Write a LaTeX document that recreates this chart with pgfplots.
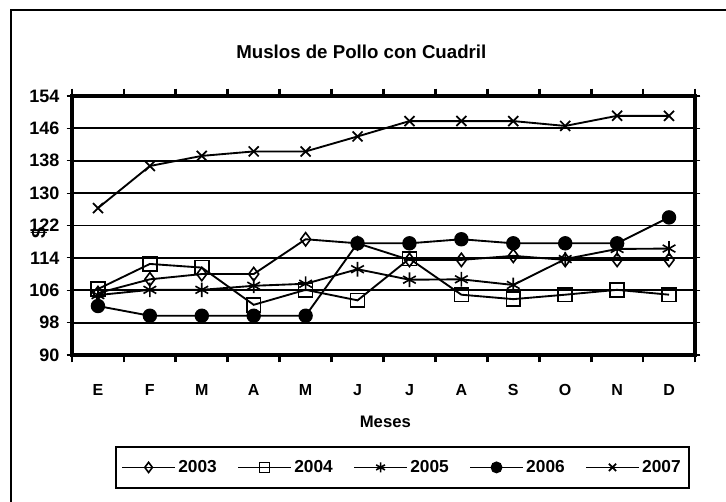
\documentclass[border=0pt]{standalone}
\usepackage{fontspec}
\setmainfont{Liberation Sans}
\usepackage{pgfplots}
\pgfplotsset{compat=1.18}

\begin{document}
\begin{tikzpicture}
% picture = 726x502 px, 1 px = 0.75pt
\path[use as bounding box] (0,0) rectangle (544.5pt,376.5pt);
% chart area border (right and bottom are cut off in the reference)
\draw[line width=1.5pt] (8.25pt,-2pt) -- (8.25pt,369pt) -- (547pt,369pt);

\node[font=\bfseries\fontsize{14}{16}\selectfont] at (271pt,337.5pt) {Muslos de Pollo con Cuadril};
\node[font=\bfseries\fontsize{12.5}{14}\selectfont] at (289pt,60pt) {Meses};

\begin{axis}[
    at={(54pt,110.25pt)},
    anchor=south west,
    scale only axis,
    width=467.25pt,
    height=194.25pt,
    xmin=-0.5, xmax=11.5,
    ymin=90, ymax=154,
    xtick={0,...,11},
    xticklabels={E,F,M,A,M,J,J,A,S,O,N,D},
    minor xtick={-0.5,0.5,...,11.5},
    ytick={90,98,...,154},
    major x tick style={draw=none},
    tick align=outside,
    major tick length=4pt,
    minor tick length=5.5pt,
    major tick style={black, line width=0.8pt},
    minor tick style={black, line width=2pt},
    axis line style={line width=2.4pt},
    ymajorgrids,
    major grid style={black, line width=1.4pt},
    yticklabel style={font=\bfseries\fontsize{13.5}{15}\selectfont, xshift=-2pt},
    /pgf/number format/assume math mode=true,
    xticklabel style={font=\bfseries\fontsize{12}{14}\selectfont, yshift=-14pt,
        text height=9pt, text depth=0pt},
    ylabel={\$},
    ylabel style={at={(axis description cs:-0.053,0.47)}, anchor=center,
        font=\bfseries\fontsize{15}{17}\selectfont},
    legend columns=5,
    legend style={at={(axis description cs:0.5305,-0.434)}, anchor=center,
        draw=black, line width=1.3pt, font=\bfseries\fontsize{13}{15}\selectfont,
        inner xsep=4pt, inner ysep=8pt,
        /tikz/every even column/.append style={column sep=13.5pt}},
    legend image code/.code={\draw[mark repeat=2,mark phase=2,line width=1.3pt,mark size=3.8pt]
        plot coordinates {(0cm,0cm) (0.69cm,0cm) (1.38cm,0cm)};},
    every axis plot/.append style={black, line width=1.4pt},
    clip=false,
]
\addplot[mark=diamond, mark size=5pt, mark options={solid, fill=white, line width=1.2pt}] coordinates {
    (0,105.3) (1,108.7) (2,110.0) (3,110.0) (4,118.6) (5,117.6)
    (6,113.5) (7,113.5) (8,114.5) (9,113.5) (10,113.5) (11,113.5)
};
\addplot[mark=square, mark size=5.2pt, mark options={solid, fill=white, line width=1.2pt}] coordinates {
    (0,106.3) (1,112.5) (2,111.6) (3,102.4) (4,106.1) (5,103.5)
    (6,113.8) (7,104.9) (8,103.8) (9,104.9) (10,106.1) (11,104.9)
};
\addplot[mark=asterisk, mark size=5.5pt, mark options={solid, line width=1.2pt}] coordinates {
    (0,104.8) (1,106.1) (2,106.1) (3,107.1) (4,107.6) (5,111.2)
    (6,108.6) (7,108.7) (8,107.3) (9,113.7) (10,116.2) (11,116.3)
};
\addplot[mark=*, mark size=4.7pt, mark options={solid}] coordinates {
    (0,102.1) (1,99.7) (2,99.7) (3,99.7) (4,99.7) (5,117.6)
    (6,117.6) (7,118.6) (8,117.6) (9,117.6) (10,117.6) (11,124.0)
};
\addplot[mark=x, mark size=5.3pt, mark options={solid, line width=1.3pt}] coordinates {
    (0,126.3) (1,136.7) (2,139.2) (3,140.3) (4,140.3) (5,144.0)
    (6,147.8) (7,147.8) (8,147.8) (9,146.6) (10,149.1) (11,149.1)
};
\legend{2003,2004,2005,2006,2007}
\end{axis}
\end{tikzpicture}
\end{document}
